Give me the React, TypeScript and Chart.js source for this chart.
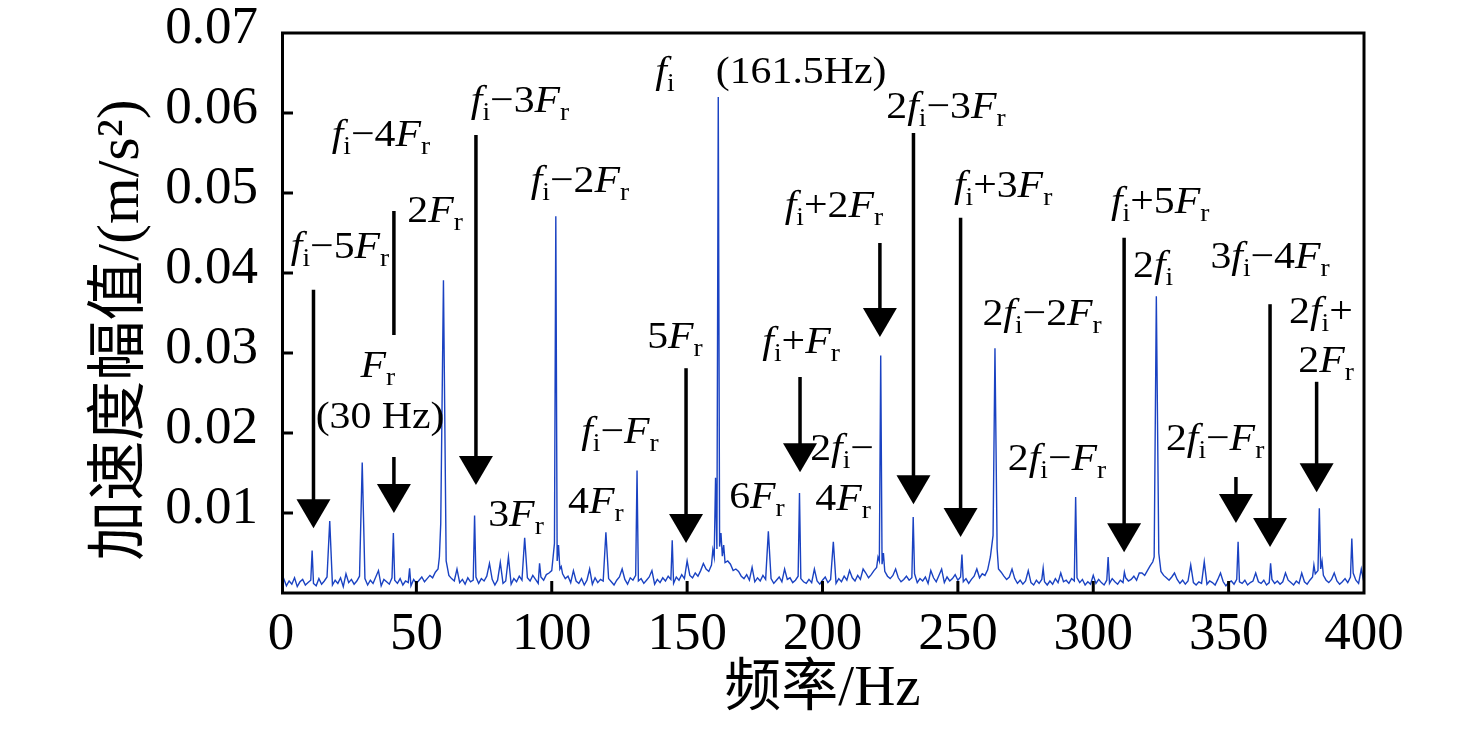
import { useEffect, useRef } from 'react';
import { Chart, registerables } from 'chart.js';

Chart.register(...registerables);

// ---------- data ----------
// Noise floor of the acceleration spectrum, one value per 1 Hz bin (0 … 400 Hz), m/s²
const noiseFloor = [
  0.0012, 0.0018, 0.0009, 0.0015, 0.0011, 0.0019, 0.0008, 0.0014, 0.0017, 0.0010,
  0.0013, 0.0016, 0.0012, 0.0009, 0.0018, 0.0011, 0.0015, 0.0020, 0.0014, 0.0010,
  0.0016, 0.0012, 0.0019, 0.0008, 0.0024, 0.0013, 0.0017, 0.0011, 0.0015, 0.0021,
  0.0014, 0.0018, 0.0010, 0.0016, 0.0012, 0.0020, 0.0013, 0.0009, 0.0017, 0.0014,
  0.0011, 0.0019, 0.0016, 0.0012, 0.0018, 0.0010, 0.0015, 0.0013, 0.0009, 0.0017,
  0.0012, 0.0016, 0.0020, 0.0014, 0.0018, 0.0022, 0.0019, 0.0026, 0.0030, 0.0035,
  0.0040, 0.0028, 0.0022, 0.0018, 0.0015, 0.0020, 0.0013, 0.0017, 0.0011, 0.0019,
  0.0014, 0.0016, 0.0020, 0.0012, 0.0018, 0.0015, 0.0021, 0.0013, 0.0017, 0.0010,
  0.0016, 0.0019, 0.0012, 0.0015, 0.0020, 0.0011, 0.0018, 0.0014, 0.0021, 0.0016,
  0.0013, 0.0019, 0.0015, 0.0022, 0.0017, 0.0012, 0.0020, 0.0016, 0.0023, 0.0025,
  0.0028, 0.0035, 0.0040, 0.0030, 0.0024, 0.0018, 0.0021, 0.0013, 0.0017, 0.0015,
  0.0012, 0.0018, 0.0010, 0.0016, 0.0014, 0.0011, 0.0019, 0.0013, 0.0017, 0.0015,
  0.0012, 0.0018, 0.0014, 0.0010, 0.0016, 0.0020, 0.0013, 0.0017, 0.0011, 0.0019,
  0.0016, 0.0022, 0.0015, 0.0018, 0.0012, 0.0016, 0.0020, 0.0014, 0.0011, 0.0017,
  0.0013, 0.0019, 0.0015, 0.0021, 0.0017, 0.0012, 0.0020, 0.0016, 0.0023, 0.0018,
  0.0015, 0.0022, 0.0019, 0.0025, 0.0021, 0.0028, 0.0024, 0.0030, 0.0027, 0.0035,
  0.0045, 0.0055, 0.0058, 0.0046, 0.0038, 0.0032, 0.0036, 0.0028, 0.0024, 0.0027,
  0.0021, 0.0018, 0.0023, 0.0016, 0.0020, 0.0014, 0.0019, 0.0015, 0.0022, 0.0017,
  0.0013, 0.0018, 0.0012, 0.0016, 0.0020, 0.0014, 0.0011, 0.0017, 0.0019, 0.0013,
  0.0016, 0.0021, 0.0018, 0.0014, 0.0012, 0.0017, 0.0013, 0.0019, 0.0015, 0.0011,
  0.0016, 0.0020, 0.0013, 0.0017, 0.0015, 0.0012, 0.0018, 0.0014, 0.0021, 0.0016,
  0.0012, 0.0019, 0.0015, 0.0022, 0.0017, 0.0020, 0.0025, 0.0019, 0.0023, 0.0028,
  0.0032, 0.0040, 0.0036, 0.0027, 0.0021, 0.0018, 0.0022, 0.0015, 0.0019, 0.0014,
  0.0017, 0.0021, 0.0016, 0.0019, 0.0024, 0.0013, 0.0018, 0.0015, 0.0020, 0.0012,
  0.0016, 0.0019, 0.0014, 0.0022, 0.0017, 0.0013, 0.0020, 0.0015, 0.0018, 0.0023,
  0.0016, 0.0020, 0.0014, 0.0018, 0.0012, 0.0017, 0.0021, 0.0015, 0.0019, 0.0024,
  0.0022, 0.0029, 0.0033, 0.0038, 0.0042, 0.0030, 0.0026, 0.0021, 0.0017, 0.0020,
  0.0014, 0.0018, 0.0012, 0.0016, 0.0011, 0.0015, 0.0019, 0.0013, 0.0010, 0.0016,
  0.0012, 0.0017, 0.0014, 0.0010, 0.0015, 0.0011, 0.0018, 0.0013, 0.0009, 0.0014,
  0.0016, 0.0012, 0.0018, 0.0015, 0.0019, 0.0013, 0.0017, 0.0010, 0.0014, 0.0011,
  0.0015, 0.0012, 0.0017, 0.0013, 0.0010, 0.0016, 0.0012, 0.0018, 0.0014, 0.0011,
  0.0016, 0.0013, 0.0019, 0.0015, 0.0017, 0.0021, 0.0016, 0.0020, 0.0025, 0.0022,
  0.0028, 0.0034, 0.0039, 0.0042, 0.0031, 0.0027, 0.0022, 0.0019, 0.0016, 0.0020,
  0.0014, 0.0017, 0.0012, 0.0016, 0.0011, 0.0015, 0.0019, 0.0013, 0.0010, 0.0014,
  0.0012, 0.0016, 0.0011, 0.0015, 0.0013, 0.0010, 0.0017, 0.0012, 0.0014, 0.0009,
  0.0013, 0.0015, 0.0011, 0.0017, 0.0014, 0.0012, 0.0016, 0.0010, 0.0013, 0.0015,
  0.0011, 0.0014, 0.0012, 0.0016, 0.0010, 0.0013, 0.0017, 0.0012, 0.0015, 0.0011,
  0.0014, 0.0012, 0.0016, 0.0013, 0.0010, 0.0015, 0.0012, 0.0017, 0.0014, 0.0011,
  0.0016, 0.0020, 0.0024, 0.0028, 0.0030, 0.0022, 0.0016, 0.0013, 0.0017, 0.0012,
  0.0015, 0.0011, 0.0014, 0.0018, 0.0013, 0.0020, 0.0025, 0.0016, 0.0012, 0.0015,
  0.0013,
];

// Spectral lines (Hz) and their amplitudes (m/s²)
const peakFreqs = [
  11.5, 18, 30, 36, 41.5, 47.5,
  58.5, 59, 60, 61, 65, 71.5, 77, 81, 84, 90, 95.5,
  100.5, 101, 101.5, 102.5, 103.5, 108, 114, 120, 126, 131.5, 137, 144.5, 150,
  156, 159.5, 160.5, 161.5, 162.5, 163.5, 165, 168, 174, 180, 186, 191.5, 197,
  204, 210, 215, 220.5, 221.5, 222.5, 227, 233.5, 240, 244, 251.5, 257,
  262, 263, 263.7, 264.5, 270, 276, 281.5, 288, 293.5, 300, 305.5, 311.5, 317,
  322.5, 323.3, 324.2, 330, 336, 341, 347, 353.5, 360, 365.5, 371, 377,
  381.5, 383.5, 384.5, 389, 395.5, 399,
];
const peakAmps = [
  0.0053, 0.0090, 0.0163, 0.0028, 0.0075, 0.0031,
  0.0045, 0.0087, 0.0391, 0.0040, 0.0030, 0.0097, 0.0037, 0.0038, 0.0045, 0.0069, 0.0037,
  0.0045, 0.0062, 0.0471, 0.0060, 0.0033, 0.0028, 0.0030, 0.0076, 0.0030, 0.0153, 0.0028, 0.0066, 0.0040,
  0.0037, 0.0054, 0.0144, 0.0620, 0.0075, 0.0060, 0.0040, 0.0030, 0.0032, 0.0077, 0.0030, 0.0125, 0.0030,
  0.0064, 0.0028, 0.0030, 0.0045, 0.0297, 0.0050, 0.0030, 0.0095, 0.0028, 0.0030, 0.0048, 0.0030,
  0.0045, 0.0072, 0.0306, 0.0055, 0.0030, 0.0028, 0.0031, 0.0025, 0.0120, 0.0022, 0.0045, 0.0026, 0.0025,
  0.0045, 0.0371, 0.0050, 0.0025, 0.0035, 0.0039, 0.0025, 0.0064, 0.0025, 0.0037, 0.0025, 0.0025,
  0.0035, 0.0106, 0.0040, 0.0025, 0.0068, 0.0030,
];

// Axis ticks
const xTickValues = [0, 50, 100, 150, 200, 250, 300, 350, 400];
const yTickLabels = ['', '0.01', '0.02', '0.03', '0.04', '0.05', '0.06', '0.07'];
const xTitle = '频率/Hz';
const yTitle = '加速度幅值/(m/s²)';

// Annotation labels: text ("_x" = subscript, f/F italic), anchor in data coords (Hz, m/s² at baseline)
const labelTexts = [
  'f_i−5F_r', 'f_i−4F_r', '2F_r', 'F_r', '(30 Hz)', 'f_i−3F_r', 'f_i−2F_r', 'f_i', '(161.5Hz)',
  '5F_r', 'f_i−F_r', '3F_r', '4F_r', '6F_r', '2f_i−', '4F_r', 'f_i+F_r', 'f_i+2F_r',
  '2f_i−3F_r', 'f_i+3F_r', '2f_i−2F_r', '2f_i−F_r', 'f_i+5F_r', '2f_i', '3f_i−4F_r',
  '2f_i+', '2F_r', '2f_i−F_r',
];
const labelHz = [
  21.8, 36.9, 56.9, 35.8, 36.6, 88.3, 110.4, 141.8, 192.1,
  145.5, 125.2, 86.8, 116.3, 175.8, 207.2, 207.6, 192.1, 204.2,
  245.6, 266.7, 281.1, 286.6, 324.7, 322.1, 365.3,
  384.1, 386.0, 345.0,
];
const labelAmp = [
  0.0419, 0.0559, 0.0464, 0.0270, 0.0206, 0.0601, 0.0501, 0.0638, 0.0638,
  0.0306, 0.0188, 0.0084, 0.0100, 0.0106, 0.0166, 0.0104, 0.0300, 0.0470,
  0.0594, 0.0495, 0.0335, 0.0154, 0.0475, 0.0395, 0.0406,
  0.0338, 0.0276, 0.0179,
];

// Arrows: frequency, start amplitude, end amplitude (tip), with head or plain connector
const arrowHz = [12.0, 41.7, 41.7, 72.0, 149.6, 191.7, 221.2, 233.6, 251.0, 311.4, 352.7, 365.3, 382.5];
const arrowFrom = [0.0379, 0.04775, 0.0170, 0.05725, 0.0281, 0.0270, 0.04375, 0.0575, 0.0469, 0.0444, 0.0145, 0.0361, 0.0264];
const arrowTo = [0.0081, 0.03225, 0.0100, 0.0135, 0.00625, 0.0151, 0.0320, 0.0111, 0.0070, 0.0051, 0.00875, 0.00575, 0.0126];
const arrowHasHead = [true, false, true, true, true, true, true, true, true, true, true, true, true];

// ---------- styles ----------
const SERIF = '"Liberation Serif", "Times New Roman", serif';
const TITLE_FONT = '"Liberation Serif", "Noto Sans CJK SC", serif';
const LABEL_SIZE = 38;
const SUB_SIZE = 25;
const SUB_DROP = 8;
const LABEL_STRETCH = 1.1;
const HEAD_W = 34;
const HEAD_H = 29;

type Seg = { t: string; sub: boolean; it: boolean };

function parseLabel(s: string): Seg[] {
  const segs: Seg[] = [];
  for (let k = 0; k < s.length; k++) {
    const c = s[k];
    if (c === '_' && k + 1 < s.length) {
      segs.push({ t: s[k + 1], sub: true, it: false });
      k++;
    } else {
      segs.push({ t: c, sub: false, it: c === 'f' || c === 'F' });
    }
  }
  return segs;
}

function segFont(seg: Seg) {
  if (seg.sub) return `${SUB_SIZE}px ${SERIF}`;
  return `${seg.it ? 'italic ' : ''}${LABEL_SIZE}px ${SERIF}`;
}

function drawLabel(ctx: CanvasRenderingContext2D, s: string, cx: number, baseY: number) {
  const segs = parseLabel(s);
  const widths = segs.map((seg) => {
    ctx.font = segFont(seg);
    return ctx.measureText(seg.t).width;
  });
  const total = widths.reduce((a, b) => a + b, 0);
  ctx.save();
  ctx.translate(cx, baseY);
  ctx.scale(LABEL_STRETCH, 1);
  ctx.textAlign = 'left';
  ctx.textBaseline = 'alphabetic';
  ctx.fillStyle = '#000';
  let x = -total / 2;
  segs.forEach((seg, i) => {
    ctx.font = segFont(seg);
    ctx.fillText(seg.t, x, seg.sub ? SUB_DROP : 0);
    x += widths[i];
  });
  ctx.restore();
}

const decorPlugin = {
  id: 'decor',
  afterDatasetsDraw(chart: any) {
    const ctx: CanvasRenderingContext2D = chart.ctx;
    const xs = chart.scales.x;
    const ys = chart.scales.y;
    const { left, right, top, bottom } = chart.chartArea;

    // arrows
    ctx.save();
    ctx.strokeStyle = '#000';
    ctx.fillStyle = '#000';
    ctx.lineWidth = 3.5;
    arrowHz.forEach((hz, i) => {
      const px = xs.getPixelForValue(hz);
      const y1 = ys.getPixelForValue(arrowFrom[i]);
      const y2 = ys.getPixelForValue(arrowTo[i]);
      ctx.beginPath();
      ctx.moveTo(px, y1);
      ctx.lineTo(px, arrowHasHead[i] ? y2 - HEAD_H + 2 : y2);
      ctx.stroke();
      if (arrowHasHead[i]) {
        ctx.beginPath();
        ctx.moveTo(px - HEAD_W / 2, y2 - HEAD_H);
        ctx.lineTo(px + HEAD_W / 2, y2 - HEAD_H);
        ctx.lineTo(px, y2);
        ctx.closePath();
        ctx.fill();
      }
    });
    ctx.restore();

    // labels
    labelTexts.forEach((t, i) => {
      drawLabel(ctx, t, xs.getPixelForValue(labelHz[i]), ys.getPixelForValue(labelAmp[i]));
    });

    // frame
    ctx.save();
    ctx.strokeStyle = '#000';
    ctx.lineWidth = 3;
    ctx.strokeRect(left + 1.5, top, right - left - 1.5, bottom - top);
    // inward tick marks
    ys.ticks.forEach((tk: any) => {
      const py = ys.getPixelForValue(tk.value);
      if (Math.abs(py - top) < 2 || Math.abs(py - bottom) < 2) return;
      ctx.beginPath();
      ctx.moveTo(left, py);
      ctx.lineTo(left + 12, py);
      ctx.stroke();
    });
    xs.ticks.forEach((tk: any) => {
      const px = xs.getPixelForValue(tk.value);
      if (Math.abs(px - left) < 2 || Math.abs(px - right) < 2) return;
      ctx.beginPath();
      ctx.moveTo(px, bottom);
      ctx.lineTo(px, bottom - 12);
      ctx.stroke();
    });
    ctx.restore();

    // axis titles
    ctx.save();
    ctx.fillStyle = '#000';
    ctx.textAlign = 'center';
    ctx.textBaseline = 'middle';
    ctx.font = `57px ${TITLE_FONT}`;
    ctx.fillText(xTitle, (left + right) / 2, bottom + 97);
    ctx.translate(122, (top + bottom) / 2 + 17);
    ctx.rotate(-Math.PI / 2);
    ctx.font = `60px ${TITLE_FONT}`;
    ctx.fillText(yTitle, 0, 0);
    ctx.restore();
  },
};

function buildPoints() {
  const pts: { x: number; y: number }[] = [];
  noiseFloor.forEach((v, hz) => {
    if (!peakFreqs.some((p) => Math.abs(p - hz) < 0.45)) pts.push({ x: hz, y: v });
  });
  peakFreqs.forEach((f, i) => pts.push({ x: f, y: peakAmps[i] }));
  pts.sort((a, b) => a.x - b.x);
  return pts;
}

export default function App() {
  const ref = useRef<HTMLCanvasElement | null>(null);

  useEffect(() => {
    if (!ref.current) return;
    const chart = new Chart(ref.current, {
      type: 'line',
      data: {
        datasets: [
          {
            data: buildPoints(),
            borderColor: '#1a42c2',
            borderWidth: 1.4,
            pointRadius: 0,
            tension: 0,
            fill: false,
          },
        ],
      },
      options: {
        animation: false,
        responsive: false,
        devicePixelRatio: 1,
        events: [],
        layout: { padding: { left: 0, right: 112, top: 33, bottom: 0 } },
        plugins: { legend: { display: false }, tooltip: { enabled: false }, title: { display: false } },
        scales: {
          x: {
            type: 'linear',
            min: 0,
            max: 400,
            afterBuildTicks: (scale: any) => {
              scale.ticks = xTickValues.map((v) => ({ value: v }));
            },
            afterFit: (scale: any) => {
              scale.height = 142;
              scale.paddingLeft = 0;
              scale.paddingRight = 0;
            },
            grid: { display: false, drawTicks: false },
            border: { display: false },
            ticks: {
              padding: 10,
              color: '#000',
              font: { family: SERIF, size: 53 },
              maxRotation: 0,
              autoSkip: false,
              callback: (v: any) => String(v),
            },
          },
          y: {
            type: 'linear',
            min: 0,
            max: 0.07,
            afterBuildTicks: (scale: any) => {
              scale.ticks = yTickLabels.map((_, i) => ({ value: i * 0.01 }));
            },
            afterFit: (scale: any) => {
              scale.width = 281;
              scale.paddingTop = 0;
              scale.paddingBottom = 0;
            },
            grid: { display: false, drawTicks: false },
            border: { display: false },
            ticks: {
              padding: 23,
              labelOffset: -4,
              color: '#000',
              font: { family: SERIF, size: 53 },
              autoSkip: false,
              callback: (_v: any, i: number) => yTickLabels[i],
            },
          },
        },
      },
      plugins: [decorPlugin],
    });
    return () => chart.destroy();
  }, []);

  return (
    <div style={{ position: 'fixed', left: 0, top: 0, width: 1476, height: 735, background: '#fff' }}>
      <canvas ref={ref} width={1476} height={735} style={{ width: 1476, height: 735, display: 'block' }} />
    </div>
  );
}
